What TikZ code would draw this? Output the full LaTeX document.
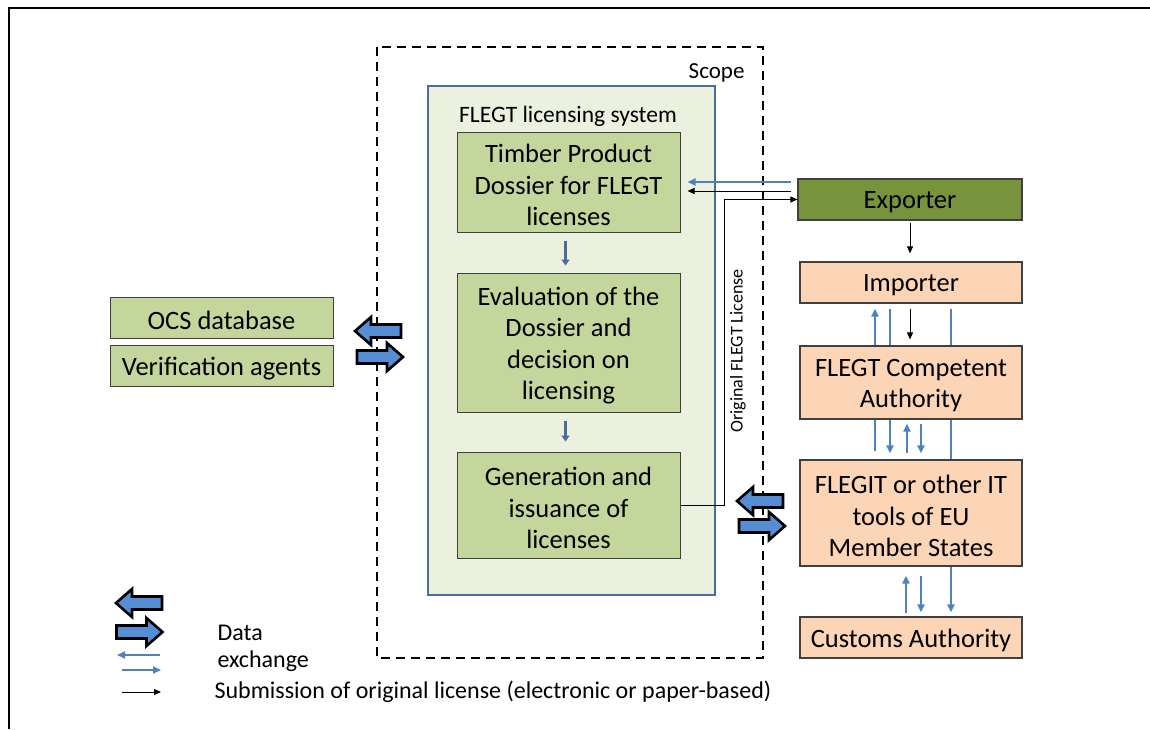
\documentclass[tikz,border=0pt]{standalone}
\usepackage{fontspec}
\setmainfont{Carlito}
\usetikzlibrary{arrows.meta,calc}
\pgfdeclarelayer{bg}
\pgfsetlayers{bg,main}
\definecolor{boxgreen}{HTML}{C3D69B}
\definecolor{paleback}{HTML}{EBF1DE}
\definecolor{sysblue}{HTML}{4A6C9E}
\definecolor{expgreen}{HTML}{77933C}
\definecolor{peach}{HTML}{FBD5B5}
\definecolor{arrblue}{HTML}{4F81BD}
\definecolor{bigblue}{HTML}{558ED5}
\definecolor{edge}{HTML}{404040}
\tikzset{
  boxtext/.style={font=\fontsize{26.5}{31.5}\selectfont, align=center, inner sep=0pt},
  txt/.style={label={[boxtext, yshift=-3pt]center:{#1}}},
  plainbox/.style={draw=edge, inner sep=0pt},
  greenbox/.style={plainbox, line width=1pt, fill=boxgreen, minimum width=223pt},
  peachbox/.style={plainbox, line width=1.2pt, fill=peach, minimum width=222pt},
  blueline/.style={draw=arrblue, line width=2.3pt},
  bluearr/.style={blueline, -{Triangle[length=8pt,width=7pt]}},
  blkarr/.style={draw=black, line width=0.9pt, -{Triangle[length=7pt,width=6pt]}},
  stubarr/.style={draw=sysblue, line width=3pt, -{Triangle[length=6pt,width=8pt]}},
  blockarr/.style={draw=black, line width=2.6pt, fill=bigblue, line join=miter},
  legtext/.style={font=\fontsize{24}{28}\selectfont, anchor=west},
  pics/bigarrow/.style={code={
    \draw[blockarr] (-23,-6.5) -- (7,-6.5) -- (7,-14) -- (23,0) -- (7,14) -- (7,6.5) -- (-23,6.5) -- cycle;}}
}
\begin{document}
\begin{tikzpicture}[x=1pt,y=-1pt]
\useasboundingbox (0,0) rectangle (1150,729);
% outer frame
\draw[line width=2pt] (9,729) -- (9,8) -- (1150,8);
% scope
\draw[line width=2.5pt, dash pattern=on 9pt off 6pt] (377,47) rectangle (763,658);
\node[font=\fontsize{23}{27}\selectfont, anchor=east] (scope) at (748,73) {Scope};
% licensing system
\draw[draw=sysblue, line width=2pt, fill=paleback] (428,86) rectangle (715,595);
\node[font=\fontsize{23.5}{27}\selectfont] (sys) at (568,116) {FLEGT licensing system};
\node[greenbox, minimum height=100pt, txt={Timber Product\\Dossier for FLEGT\\licenses}] (tpd) at (568.5,182) {};
\node[greenbox, minimum height=139pt, txt={Evaluation of the\\Dossier and\\decision on\\licensing}] (eva) at (568.5,342.5) {};
\node[greenbox, minimum height=106pt, txt={Generation and\\issuance of\\licenses}] (gen) at (568.5,505) {};
\draw[stubarr] ($(tpd.south)+(-3,8)$) -- ($(eva.north)+(-3,-7)$);
\draw[stubarr] ($(eva.south)+(-3,8)$) -- ($(gen.north)+(-3,-10)$);
% left boxes
\node[greenbox, minimum height=41pt, txt={OCS database}] (ocs) at (221.5,317.5) {};
\node[greenbox, minimum height=41pt, txt={Verification agents}] (ver) at (221.5,365.5) {};
% right column
\node[plainbox, line width=1.2pt, fill=expgreen, minimum width=224pt, minimum height=41pt, txt={Exporter}] (exp) at (910,199.5) {};
\node[peachbox, minimum height=41pt, txt={Importer}] (imp) at (911,282.5) {};
\node[peachbox, minimum height=73pt, txt={FLEGT Competent\\Authority}] (ca) at (911,382.5) {};
\node[peachbox, minimum height=106pt, txt={FLEGIT or other IT\\tools of EU\\Member States}] (it) at (911,513) {};
\node[peachbox, minimum height=41pt, txt={Customs Authority}] (cus) at (911,637.5) {};
% exporter <-> dossier
\draw[bluearr] ($(exp.west)+(-6,-17.5)$) -- ($(tpd.east)+(7,0)$);
\draw[blkarr] ($(exp.west)+(-6,-8.5)$) -- ($(tpd.east)+(7,9)$);
\draw[blkarr] (gen.east) -- ++(44,0) |- (exp.west);
\node[font=\fontsize{18}{22}\selectfont, rotate=90] (lbl) at (738,351) {Original FLEGT License};
\draw[blkarr] ($(exp.south)+(0,2)$) -- ($(imp.north)+(-1,-8)$);
% importer / CA / IT / customs links
\begin{pgfonlayer}{bg}
\draw[bluearr] ($(it.north)+(-36,-8)$) -- ($(imp.south)+(-36,5)$);
\draw[bluearr] ($(imp.south)+(-21,5)$) -- ($(it.north)+(-21,-6)$);
\draw[bluearr] ($(imp.south)+(40,5)$) -- ($(cus.north)+(40,-4)$);
\end{pgfonlayer}
\draw[blkarr] ($(imp.south)+(-1,5)$) -- ($(ca.north)+(-1,-6)$);
\draw[bluearr] ($(it.north)+(-4,-6)$) -- ($(ca.south)+(-4,4)$);
\draw[bluearr] ($(ca.south)+(10,4)$) -- ($(it.north)+(10,-6)$);
\draw[bluearr] ($(cus.north)+(-5,-3)$) -- ($(it.south)+(-5,9)$);
\draw[bluearr] ($(it.south)+(10,9)$) -- ($(cus.north)+(10,-4)$);
% block arrows
\pic[rotate=180] at (378,331) {bigarrow};
\pic at (380,357) {bigarrow};
\pic[rotate=180] at (760,501) {bigarrow};
\pic at (762,526) {bigarrow};
% legend
\pic[rotate=180] at (139,603) {bigarrow};
\pic at (139.5,632) {bigarrow};
\coordinate (l1a) at (160,655);
\coordinate (l1b) at (117,655);
\coordinate (l2a) at (122,670);
\coordinate (l2b) at (161,670);
\coordinate (l3a) at (122,692);
\coordinate (l3b) at (161,692);
\draw[bluearr, line width=1.8pt] (l1a) -- (l1b);
\draw[bluearr, line width=1.8pt] (l2a) -- (l2b);
\draw[blkarr] (l3a) -- (l3b);
\node[legtext] (ld) at (214,633) {Data};
\node[legtext] (le) at (214,661) {exchange};
\node[legtext] (ls) at (211,692) {Submission of original license (electronic or paper-based)};
\end{tikzpicture}
\end{document}
